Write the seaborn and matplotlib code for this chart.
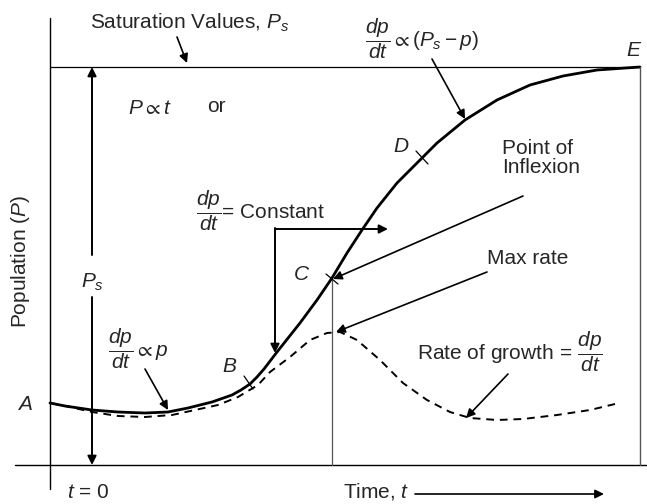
import matplotlib
matplotlib.use("Agg")
import matplotlib.pyplot as plt
import seaborn as sns
import pandas as pd

# ---- Data (diagram coordinates; y grows downward) ----
pop_t = [50, 65, 92, 118, 145, 168, 188, 212, 232, 241, 250, 257, 264, 277, 300, 317, 332,
         347, 362, 377, 397, 413, 437, 465, 497, 530, 563, 597, 640]
pop_p = [403, 406, 410, 412, 413, 412, 408, 402, 395, 390, 384, 377, 369, 352, 323, 300, 278,
         253, 230, 208, 183, 167, 143, 120, 100, 85, 76, 70, 67]

rate_t = [50, 70, 92, 118, 145, 172, 195, 218, 238, 258, 270, 290, 310, 327, 340,
          357, 380, 403, 427, 450, 470, 497, 523, 557, 590, 615]
rate_r = [403, 407, 412, 416, 417, 415, 410, 405, 397, 385, 372, 357, 340, 333, 332,
          340, 360, 383, 400, 412, 418, 420, 419, 415, 410, 404]

t_axis_x = 50
p_axis_y = 465
saturation_y = 67
t_end = 640
t_inflexion = 332
y_inflexion = 279

sns.set_theme(style="white")
plt.rcParams["font.family"] = ["Liberation Sans", "DejaVu Sans"]
plt.rcParams["mathtext.fontset"] = "custom"
plt.rcParams["mathtext.rm"] = "Liberation Sans"
plt.rcParams["mathtext.it"] = "Liberation Sans:italic"
plt.rcParams["mathtext.sf"] = "Liberation Sans"
plt.rcParams["mathtext.bf"] = "Liberation Sans:bold"
plt.rcParams["mathtext.fallback"] = "stixsans"

fig = plt.figure(figsize=(6.47, 5.04), dpi=100)
ax = fig.add_axes([0, 0, 1, 1])

df_pop = pd.DataFrame({"t": pop_t, "p": pop_p})
df_rate = pd.DataFrame({"t": rate_t, "r": rate_r})
sns.lineplot(data=df_pop, x="t", y="p", sort=False, estimator=None, ax=ax,
             color="black", lw=2.0, solid_joinstyle="round")
sns.lineplot(data=df_rate, x="t", y="r", sort=False, estimator=None, ax=ax,
             color="black", lw=1.4, linestyle=(0, (4, 3)))
ax.set_xlim(0, 647)
ax.set_ylim(504, 0)
ax.axis("off")

k = "black"
# axes and frame lines
ax.plot([t_axis_x, t_axis_x], [18, 489], color=k, lw=1.0)
ax.plot([15, 647], [p_axis_y, p_axis_y], color=k, lw=1.0)
ax.plot([t_axis_x, t_end], [saturation_y, saturation_y], color=k, lw=0.9)
ax.plot([t_end, t_end], [saturation_y, p_axis_y], color="#555555", lw=1.0)
ax.plot([t_inflexion, t_inflexion], [y_inflexion, p_axis_y], color="#555555", lw=0.9)

# tick marks on the curve
ax.plot([244, 253], [376, 389], color=k, lw=0.9)
ax.plot([416, 428], [151, 164], color=k, lw=0.9)
ax.plot([326, 338], [274, 284], color=k, lw=0.9)

ap = dict(arrowstyle="-|>", mutation_scale=13, lw=1.2, color=k, shrinkA=0, shrinkB=0)

def arrow(x0, y0, x1, y1, **kw):
    d = dict(ap)
    d.update(kw)
    ax.annotate("", xy=(x1, y1), xytext=(x0, y0), arrowprops=d)

# Ps double arrow
arrow(92, 255, 92, saturation_y, lw=1.4)
arrow(92, 297, 92, p_axis_y, lw=1.4)
# constant arrow
ax.plot([275, 275], [228, 300], color=k, lw=1.4)
arrow(275, 300, 275, 353, lw=1.4)
ax.plot([275, 340], [229, 229], color=k, lw=1.4)
arrow(340, 229, 388, 229, lw=1.4)
# annotation arrows
arrow(177, 37, 187, 63)
arrow(432, 59, 465, 119)
arrow(523, 196, 333, 279)
arrow(487, 272, 336, 332)
arrow(508, 374, 466, 418)
arrow(145, 369, 168, 410)
arrow(415, 494, 604, 494)

fs = 15
ax.text(90, 23, r"Saturation Values, $P_s$", fontsize=fs, ha="left", va="center")
ax.text(128, 108, r"$P \propto t$", fontsize=fs, ha="left", va="center")
ax.text(207, 106, "or", fontsize=fs, ha="left", va="center")
ax.text(196, 211, r"$\dfrac{dp}{dt}$= Constant", fontsize=fs, ha="left", va="center")
ax.text(365, 39, r"$\dfrac{dp}{dt} \propto (P_s - p)$", fontsize=fs, ha="left", va="center")
ax.text(634, 50, r"$E$", fontsize=fs, ha="center", va="center")
ax.text(401, 147, r"$D$", fontsize=fs, ha="center", va="center")
ax.text(502, 158, "Point of\nInflexion", fontsize=fs, ha="left", va="center", linespacing=1.05)
ax.text(302, 274, r"$C$", fontsize=fs, ha="center", va="center")
ax.text(487, 259, "Max rate", fontsize=fs, ha="left", va="center")
ax.text(92, 282, r"$P_s$", fontsize=fs, ha="center", va="center")
ax.text(108, 349, r"$\dfrac{dp}{dt} \propto p$", fontsize=fs, ha="left", va="center")
ax.text(230, 367, r"$B$", fontsize=fs, ha="center", va="center")
ax.text(25, 404, r"$A$", fontsize=fs, ha="center", va="center")
ax.text(417, 352, r"Rate of growth$\,=\,\dfrac{dp}{dt}$", fontsize=fs, ha="left", va="center")
ax.text(67, 492, r"$t$ = 0", fontsize=fs, ha="left", va="center")
ax.text(343, 492, r"Time, $t$", fontsize=fs, ha="left", va="center")
ax.text(21, 262, r"Population ($P$)", fontsize=fs, ha="center", va="center", rotation=90)

fig.savefig("out.png", dpi=100)
